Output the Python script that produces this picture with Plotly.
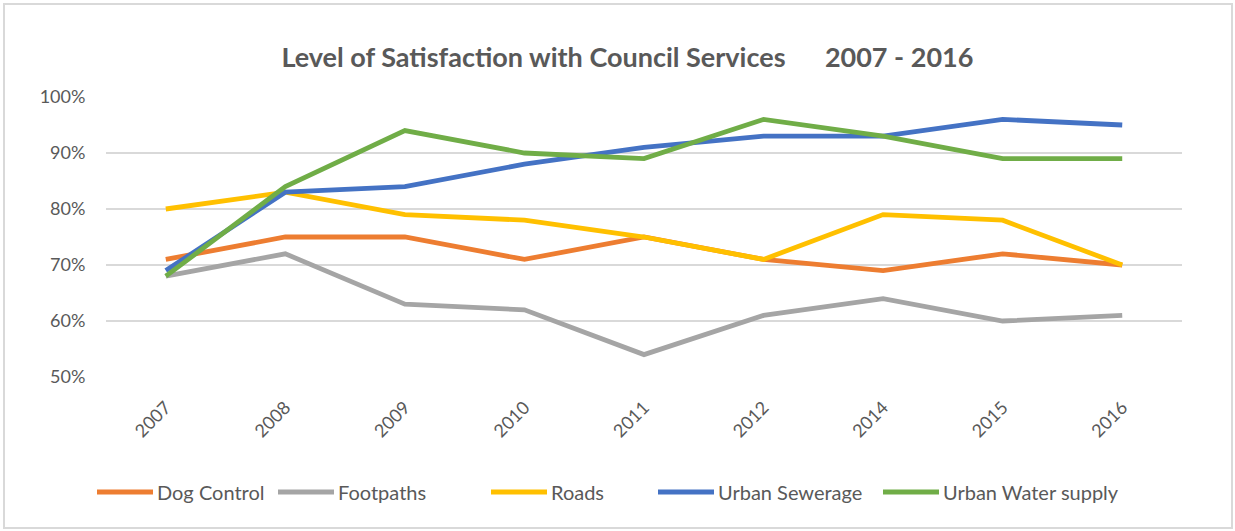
import plotly.graph_objects as go

# Survey years (categorical – 2013 was not surveyed)
years = ["2007", "2008", "2009", "2010", "2011", "2012", "2014", "2015", "2016"]

# Satisfaction level per service, in percent
dog_control = [71, 75, 75, 71, 75, 71, 69, 72, 70]
footpaths = [68, 72, 63, 62, 54, 61, 64, 60, 61]
roads = [80, 83, 79, 78, 75, 71, 79, 78, 70]
urban_sewerage = [69, 83, 84, 88, 91, 93, 93, 96, 95]
urban_water_supply = [68, 84, 94, 90, 89, 96, 93, 89, 89]

series_names = ["Dog Control", "Footpaths", "Roads", "Urban Sewerage", "Urban Water supply"]
series_values = [dog_control, footpaths, roads, urban_sewerage, urban_water_supply]
series_colors = ["#ED7D31", "#A5A5A5", "#FFC000", "#4472C4", "#70AD47"]

y_ticks = [50, 60, 70, 80, 90, 100]
y_tick_labels = [f"{v}%" for v in y_ticks]

W, H = 1235, 531
ML, MR, MT, MB = 106, 53, 97, 154
FONT = "Lato, 'Open Sans', sans-serif"
TEXT_GREY = "#595959"

fig = go.Figure()
for name, vals, col in zip(series_names, series_values, series_colors):
    fig.add_trace(go.Scatter(
        x=years, y=vals, name=name, mode="lines",
        line=dict(color=col, width=4.8),
        showlegend=False,
    ))

pw, ph = W - ML - MR, H - MT - MB


def px_x(p):
    return (p - ML) / pw


def px_y(p):
    return (H - MB - p) / ph


shapes = [
    # outer chart frame
    dict(type="rect", xref="paper", yref="paper",
         x0=px_x(4), x1=px_x(1232), y0=px_y(528), y1=px_y(4),
         line=dict(color="#D9D9D9", width=2), fillcolor="rgba(0,0,0,0)", layer="below"),
]
annotations = []

# Legend drawn beneath the axis: line sample + label for each series
legend_x = [97, 278, 491, 658, 883]
legend_y = px_y(492)
for name, col, lx in zip(series_names, series_colors, legend_x):
    shapes.append(dict(type="line", xref="paper", yref="paper",
                       x0=px_x(lx), x1=px_x(lx + 56), y0=legend_y, y1=legend_y,
                       line=dict(color=col, width=5)))
    annotations.append(dict(xref="paper", yref="paper", x=px_x(lx + 58), y=legend_y,
                            xanchor="left", yanchor="middle", showarrow=False,
                            text=name, font=dict(family=FONT, size=20, color=TEXT_GREY)))

fig.update_layout(
    width=W, height=H,
    margin=dict(l=ML, r=MR, t=MT, b=MB),
    paper_bgcolor="white", plot_bgcolor="white",
    title=dict(
        text="<b>Level of Satisfaction with Council Services\u00a0\u00a0\u00a0\u00a0\u00a0\u00a02007 - 2016</b>",
        x=0.508, xanchor="center", y=1 - 58 / H, yanchor="middle",
        font=dict(family=FONT, size=27, color=TEXT_GREY),
    ),
    xaxis=dict(
        type="category", range=[-0.5, len(years) - 0.5], tickangle=-45,
        showgrid=False, showline=False, zeroline=False,
        ticks="outside", ticklen=12, tickcolor="rgba(0,0,0,0)",
        tickfont=dict(family=FONT, size=18, color=TEXT_GREY),
    ),
    yaxis=dict(
        range=[50, 100], tickvals=y_ticks, ticktext=y_tick_labels,
        showgrid=True, gridcolor="#D9D9D9", gridwidth=1.5, zeroline=False, showline=False,
        ticks="outside", ticklen=16, tickcolor="rgba(0,0,0,0)",
        tickfont=dict(family=FONT, size=18, color=TEXT_GREY),
    ),
    shapes=shapes,
    annotations=annotations,
)

fig.write_html("out.html")
